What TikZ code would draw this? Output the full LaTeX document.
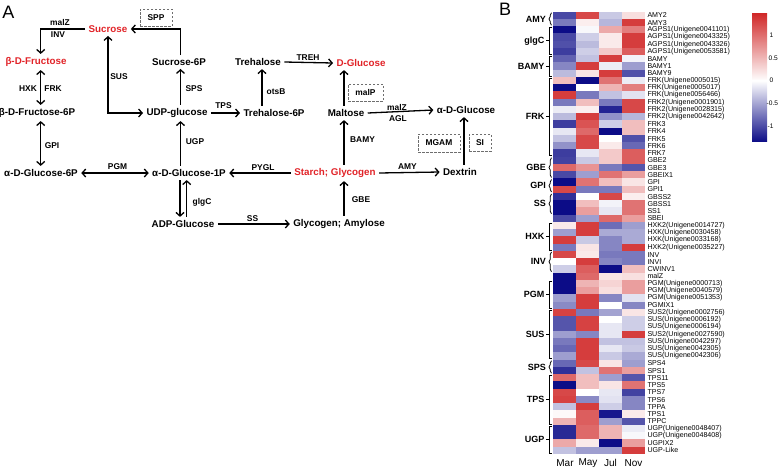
\documentclass[tikz,border=0pt]{standalone}
\usepackage{fontspec}
\setmainfont{Liberation Sans}
\usetikzlibrary{arrows.meta,decorations.pathreplacing}
\definecolor{hmred}{RGB}{208,40,40}
\definecolor{hmblue}{RGB}{12,12,135}
\definecolor{metred}{RGB}{225,35,40}
\definecolor{boxgray}{RGB}{110,110,110}
\newcommand\hmcell[3]{\ifnum#3<0 \fill[hmblue!\number-#3!white] (#1,#2) rectangle ++(23.2,7.5);\else \fill[hmred!#3!white] (#1,#2) rectangle ++(23.2,7.5);\fi}
\begin{document}
\begin{tikzpicture}[x=1pt,y=-1pt,
  met/.style={font=\bfseries\fontsize{9.8}{11}\selectfont, inner sep=2pt, outer sep=1.5pt},
  metr/.style={met, text=metred},
  enz/.style={font=\bfseries\fontsize{8.4}{9}\selectfont, inner sep=0pt},
  dbox/.style={draw=boxgray, dash pattern=on 2.5pt off 1.5pt, line width=0.8pt, font=\bfseries\fontsize{8.4}{9}\selectfont, inner sep=0pt},
  arr/.style={line width=1.3pt, -{Straight Barb[length=3.6pt,width=8pt]}},
  darr/.style={line width=1.3pt, {Straight Barb[length=3.6pt,width=8pt]}-{Straight Barb[length=3.6pt,width=8pt]}},
  hmlab/.style={font=\fontsize{7.1}{7.2}\selectfont, inner sep=0pt, anchor=west},
  grp/.style={line width=0.8pt},
  grplab/.style={font=\bfseries\fontsize{9}{10}\selectfont, inner sep=0pt},
  cblab/.style={font=\fontsize{6.6}{7}\selectfont, inner sep=0pt, anchor=west},
  panel/.style={font=\fontsize{18}{20}\selectfont, inner sep=0pt}]
\path[use as bounding box] (0,0) rectangle (778,469);

% ---------------- Panel A ----------------
\node[panel] (pA) at (8.5,12) {A};

\node[metr] (sucrose) at (108,29) {Sucrose};
\node[dbox, minimum width=32pt, minimum height=17pt] (spp) at (156,17.5) {SPP};
\node[metr] (fru) at (36,62) {β-D-Fructose};
\node[met] (suc6p) at (179,62) {Sucrose-6P};
\node[met] (treh) at (258,62) {Trehalose};
\node[metr] (dglc) at (361,63) {D-Glucose};
\node[dbox, minimum width=35pt, minimum height=17pt] (malp) at (365.5,92.5) {malP};
\node[met] (fru6p) at (37,113) {β-D-Fructose-6P};
\node[met] (udp) at (177,113) {UDP-glucose};
\node[met] (t6p) at (274,113) {Trehalose-6P};
\node[met] (maltose) at (346,113) {Maltose};
\node[met] (aglc) at (466,110) {α-D-Glucose};
\node[dbox, minimum width=42pt, minimum height=18pt] (mgam) at (439,143) {MGAM};
\node[dbox, minimum width=22pt, minimum height=17pt] (si) at (480,142.5) {SI};
\node[met] (g6p) at (41,173) {α-D-Glucose-6P};
\node[met] (g1p) at (189,173) {α-D-Glucose-1P};
\node[metr] (starch) at (335,173) {Starch; Glycogen};
\node[met] (dextrin) at (460,172) {Dextrin};
\node[met] (adp) at (183,224) {ADP-Glucose};
\node[met] (glyam) at (339,224) {Glycogen; Amylose};

\coordinate (colA) at (40.7,0);
\coordinate (colB) at (180.5,0);
\coordinate (colC) at (262,0);
\coordinate (colD) at (344,0);
\coordinate (colE) at (464,0);
\coordinate (colF) at (180,0);
\coordinate (colG) at (186.7,0);

\draw[arr] (suc6p.north -| colB) |- (sucrose.east);
\draw[arr] (sucrose.west) -| (fru.north -| colA);
\draw[darr] (fru.south -| colA) -- (fru6p.north -| colA);
\draw[darr] (fru6p.south -| colA) -- (g6p.north -| colA);
\draw[darr] (sucrose.south) |- (udp.west);
\draw[arr] (udp.north -| colB) -- (suc6p.south -| colB);
\draw[arr] (udp.east) -- (t6p.west);
\draw[arr] (t6p.north -| colC) -- (treh.south -| colC);
\draw[arr] (treh.east) -- (dglc.west);
\draw[arr] (maltose.north -| colD) -- (dglc.south -| colD);
\draw[arr] (maltose.east) -- (aglc.west);
\draw[arr] (dextrin.north -| colE) -- (aglc.south -| colE);
\draw[arr] (starch.east) -- (dextrin.west);
\draw[arr] (starch.north -| colD) -- (maltose.south -| colD);
\draw[arr] (starch.west) -- (g1p.east);
\draw[darr] (g6p.east) -- (g1p.west);
\draw[arr] (g1p.north -| colB) -- (udp.south -| colB);
\draw[arr] (g1p.south -| colF) -- (adp.north -| colF);
\draw[arr] (adp.north -| colG) -- (g1p.south -| colG);
\draw[arr] (adp.east) -- (glyam.west);
\draw[arr] (glyam.north -| colD) -- (starch.south -| colD);

\node[enz] (e1) at (60,22.3) {malZ};
\node[enz] (e2) at (58,34.3) {INV};
\node[enz] (e3) at (28,89) {HXK};
\node[enz] (e4) at (53,89) {FRK};
\node[enz] (e5) at (119,77) {SUS};
\node[enz] (e6) at (194,89) {SPS};
\node[enz] (e7) at (223.5,106) {TPS};
\node[enz] (e8) at (52,145.7) {GPI};
\node[enz] (e9) at (195,141.7) {UGP};
\node[enz] (e10) at (117.5,166.7) {PGM};
\node[enz] (e11) at (202,202) {glgC};
\node[enz] (e12) at (252.5,218.3) {SS};
\node[enz] (e13) at (361,200) {GBE};
\node[enz] (e14) at (263,167.3) {PYGL};
\node[enz] (e15) at (407.5,166.7) {AMY};
\node[enz] (e16) at (362.5,140) {BAMY};
\node[enz] (e17) at (308,57.3) {TREH};
\node[enz] (e18) at (276,91.7) {otsB};
\node[enz] (e19) at (397,107.3) {malZ};
\node[enz] (e20) at (398,119) {AGL};

% ---------------- Panel B ----------------
\node[panel] (pB) at (505,9.5) {B};

\foreach \i/\a/\b/\c/\d/\nm in {
1/-75/85/-22/15/AMY2,
2/-55/8/-30/90/AMY3,
3/-100/-3/40/60/AGPS1(Unigene0041101),
4/-75/-20/10/90/AGPS1(Unigene0043325),
5/-72/-28/10/90/AGPS1(Unigene0043326),
6/-80/-20/25/75/AGPS1(Unigene0053581),
7/-65/-25/90/-5/BAMY,
8/-50/90/-8/-40/BAMY1,
9/-28/12/90/-72/BAMY9,
10/30/-100/65/-8/FRK(Unigene0005015),
11/-100/0/35/60/FRK(Unigene0005017),
12/90/-55/-25/-12/FRK(Unigene0056466),
13/-55/30/-55/85/FRK2(Unigene0001901),
14/-8/8/-90/85/FRK2(Unigene0028315),
15/-28/90/-45/-30/FRK2(Unigene0042642),
16/-80/80/-20/30/FRK3,
17/-10/70/-100/30/FRK4,
18/-25/85/0/-72/FRK5,
19/-45/85/10/-62/FRK6,
20/-80/-10/25/75/FRK7,
21/-78/-22/25/75/GBE2,
22/70/50/-55/-70/GBE3,
23/-75/-40/65/45/GBEIX1,
24/-100/65/30/12/GPI,
25/85/-55/-55/30/GPI1,
26/-85/0/85/8/GBSS2,
27/-100/30/-5/65/GBSS1,
28/-100/45/-10/65/SS1,
29/-75/-40/70/45/SBEI,
30/10/90/-60/-40/HXK2(Unigene0014727),
31/-40/90/-35/-35/HXK(Unigene0030458),
32/90/-22/-50/-35/HXK(Unigene0033168),
33/-55/12/-50/90/HXK2(Unigene0035227),
34/85/10/-55/-55/INV,
35/0/90/-50/-55/INVI,
36/-20/75/-100/30/CWINV1,
37/-100/70/12/15/malZ,
38/-100/35/20/45/PGM(Unigene0000713),
39/-100/45/15/45/PGM(Unigene0040579),
40/-40/90/-50/-12/PGM(Unigene0051353),
41/-48/90/0/-50/PGMIX1,
42/88/-55/-38/12/SUS2(Unigene0002756),
43/-70/88/0/-20/SUS(Unigene0006192),
44/-70/88/-10/-20/SUS(Unigene0006194),
45/-40/-50/-10/90/SUS2(Unigene0027590),
46/-55/90/-25/-25/SUS(Unigene0042297),
47/-62/90/-10/-22/SUS(Unigene0042305),
48/-40/90/-22/-35/SUS(Unigene0042306),
49/-62/85/12/-40/SPS4,
50/-85/-25/65/45/SPS1,
51/70/30/-40/-70/TPS11,
52/-100/30/12/65/TPS5,
53/85/0/-10/-78/TPS7,
54/88/-48/-12/-50/TPS6,
55/-25/90/-20/-50/TPPA,
56/3/75/-95/10/TPS1,
57/35/75/-40/-70/TPPC,
58/-88/70/35/-8/UGP(Unigene0048407),
59/-88/70/35/-3/UGP(Unigene0048408),
60/40/10/-100/45/UGPIX2,
61/-25/-40/-40/90/UGP-Like}{
  \pgfmathsetmacro\yt{11.7+(\i-1)*7.25}
  \hmcell{553.3}{\yt}{\a}
  \hmcell{576.23}{\yt}{\b}
  \hmcell{599.16}{\yt}{\c}
  \hmcell{622.09}{\yt}{\d}
  \node[hmlab] (lab\i) at (647.3,\yt+3.7) {\nm};
}

\foreach \g/\s/\e in {glgC/3/6, BAMY/7/9, FRK/10/20, HXK/30/33, PGM/38/41, SUS/42/48, TPS/51/57, UGP/58/61}{
  \pgfmathsetmacro\ya{11.7+(\s-1)*7.25+1}
  \pgfmathsetmacro\yb{11.7+\e*7.25-1}
  \pgfmathsetmacro\ym{(\ya+\yb)/2}
  \draw[grp] (552.3,\ya) -- (549.5,\ya) -- (549.5,\yb) -- (552.3,\yb);
  \draw[grp] (549.5,\ym) -- (546.3,\ym);
  \node[grplab, anchor=east] (g\g) at (544.5,\ym) {\g};
}
\foreach \g/\s/\e in {AMY/1/2, GBE/21/23, GPI/24/25, SS/26/28, INV/34/36, SPS/49/50}{
  \pgfmathsetmacro\ya{11.7+(\s-1)*7.25+1}
  \pgfmathsetmacro\yb{11.7+\e*7.25-1}
  \pgfmathsetmacro\ym{(\ya+\yb)/2}
  \draw[grp, decorate, decoration={brace, amplitude=2.5pt}] (551.5,\yb) -- (551.5,\ya);
  \node[grplab, anchor=east] (g\g) at (546,\ym) {\g};
}

\node[font=\fontsize{10}{11}\selectfont, inner sep=0pt] (cMar) at (565,463) {Mar};
\node[font=\fontsize{10}{11}\selectfont, inner sep=0pt] (cMay) at (588,463) {May};
\node[font=\fontsize{10}{11}\selectfont, inner sep=0pt] (cJul) at (610.5,463) {Jul};
\node[font=\fontsize{10}{11}\selectfont, inner sep=0pt] (cNov) at (633.5,463) {Nov};

% colour bar
\shade[top color=hmred, bottom color=white] (752,13.3) rectangle (767,80.7);
\shade[top color=white, bottom color=hmblue] (752,80.7) rectangle (767,141.7);
\node[cblab] (cb1) at (769.5,35.3) {1};
\node[cblab] (cb2) at (768.5,58) {0.5};
\node[cblab] (cb3) at (769.5,80.7) {0};
\node[cblab] (cb4) at (766.5,103.4) {-0.5};
\node[cblab] (cb5) at (767.5,126.1) {-1};
\end{tikzpicture}
\end{document}
